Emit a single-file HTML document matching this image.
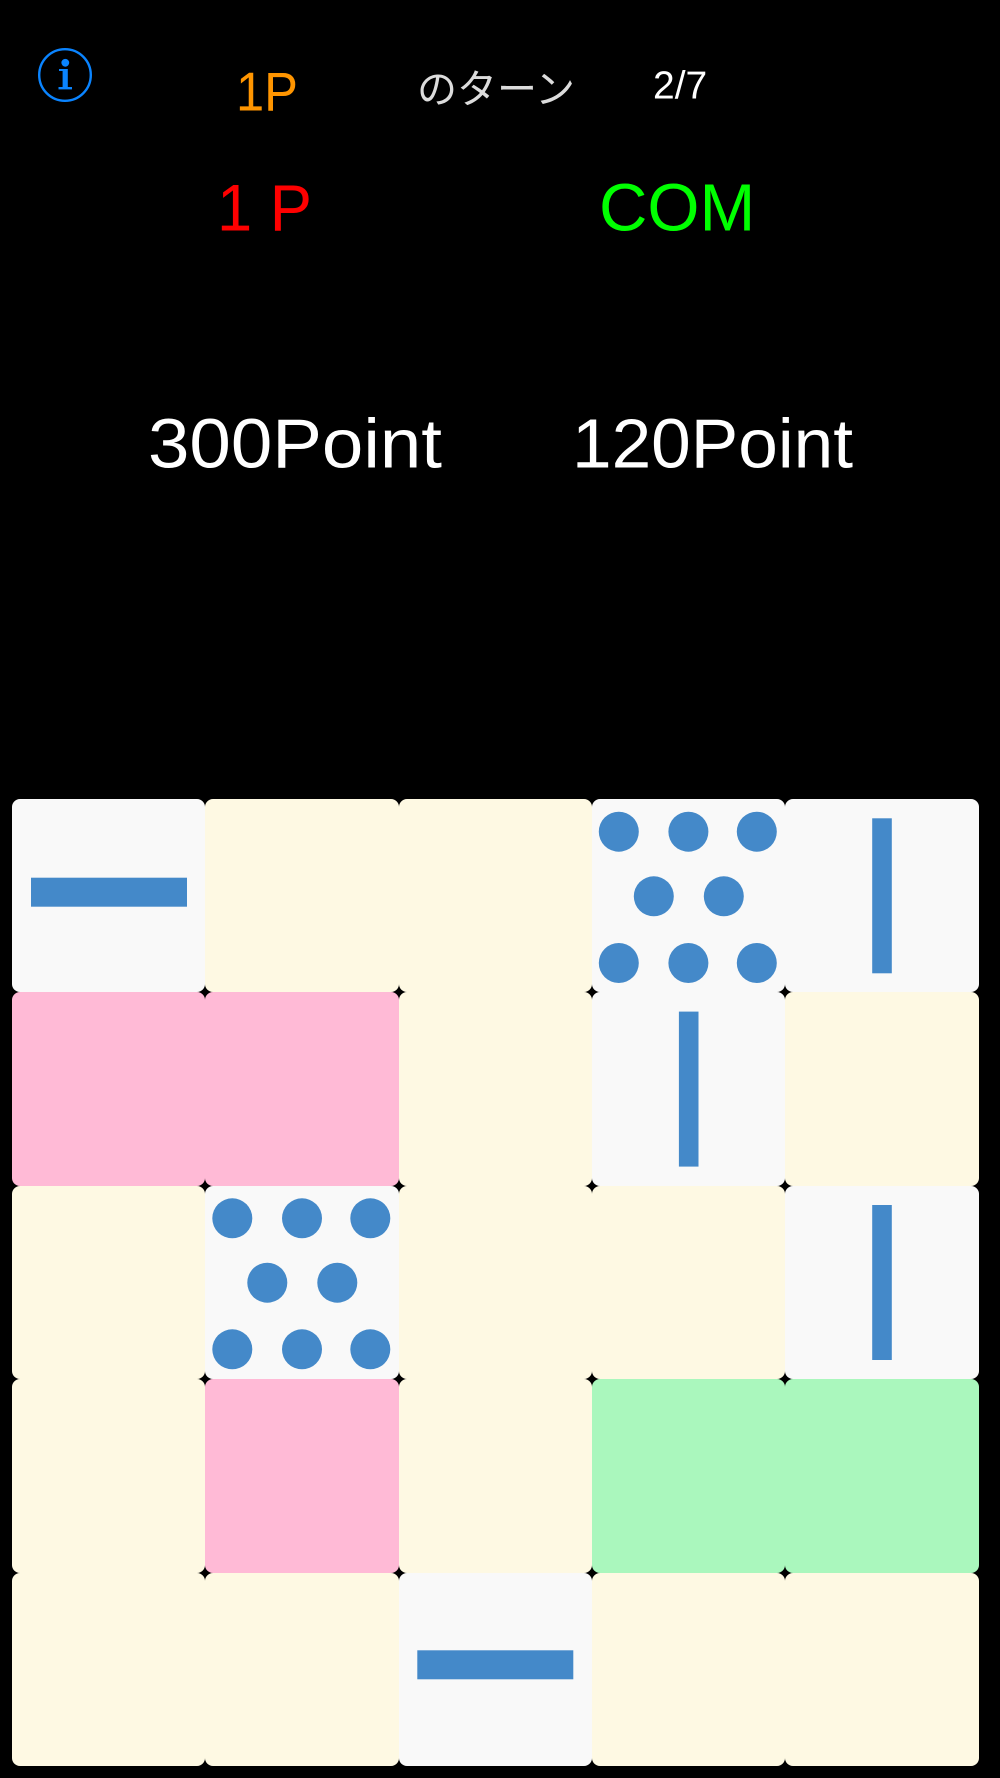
<!DOCTYPE html>
<html>
<head>
<meta charset="utf-8">
<style>
  html, body { margin: 0; padding: 0; background: #000; }
  body { width: 1000px; height: 1778px; overflow: hidden; }
  svg { display: block; }
  text { font-family: "Liberation Sans", "Noto Sans CJK JP", sans-serif; }
</style>
</head>
<body>
<svg width="1000" height="1778" viewBox="0 0 1000 1778" xmlns="http://www.w3.org/2000/svg">
  <rect x="0" y="0" width="1000" height="1778" fill="#000"/>

  <!-- info icon -->
  <circle cx="65" cy="75" r="25.8" fill="none" stroke="#0a84ff" stroke-width="2.4"/>
  <circle cx="65.3" cy="62.8" r="3.9" fill="#0a84ff"/>
  <rect x="62.6" y="69" width="5.2" height="19" fill="#0a84ff"/>
  <rect x="59" y="69" width="7" height="2" fill="#0a84ff"/>
  <rect x="58.5" y="87" width="13.5" height="2.4" fill="#0a84ff"/>

  <!-- header texts -->
  <text x="236" y="110.7" font-size="55" fill="#ff9500" textLength="62" lengthAdjust="spacingAndGlyphs">1P</text>
  <text x="417" y="103" font-size="40" fill="#dcdcdc" font-family="'Noto Sans CJK JP', sans-serif">のターン</text>
  <text x="653" y="98.3" font-size="39" fill="#ffffff">2/7</text>

  <text x="217" y="230.7" font-size="66" fill="#ff0000" textLength="95" lengthAdjust="spacingAndGlyphs">1 P</text>
  <text x="599" y="230.7" font-size="67" fill="#00ff00">COM</text>

  <text x="148" y="467.3" font-size="70" fill="#ffffff" textLength="294" lengthAdjust="spacingAndGlyphs">300Point</text>
  <text x="572" y="467.3" font-size="70" fill="#ffffff" textLength="281" lengthAdjust="spacingAndGlyphs">120Point</text>

  <!-- grid: columns 12,205,399,592,785,979 ; rows 799,992,1186,1379,1573,1766 -->
  <g>
    <!-- row 0 -->
    <rect x="12" y="799" width="193" height="193" rx="8" fill="#f9f9f9"/>
    <rect x="205" y="799" width="194" height="193" rx="8" fill="#fef9e3"/>
    <rect x="399" y="799" width="193" height="193" rx="8" fill="#fef9e3"/>
    <rect x="592" y="799" width="193" height="193" rx="8" fill="#f9f9f9"/>
    <rect x="785" y="799" width="194" height="193" rx="8" fill="#f9f9f9"/>
    <!-- row 1 -->
    <rect x="12" y="992" width="193" height="194" rx="8" fill="#ffbad6"/>
    <rect x="205" y="992" width="194" height="194" rx="8" fill="#ffbad6"/>
    <rect x="399" y="992" width="193" height="194" rx="8" fill="#fef9e3"/>
    <rect x="592" y="992" width="193" height="194" rx="8" fill="#f9f9f9"/>
    <rect x="785" y="992" width="194" height="194" rx="8" fill="#fef9e3"/>
    <!-- row 2 -->
    <rect x="12" y="1186" width="193" height="193" rx="8" fill="#fef9e3"/>
    <rect x="205" y="1186" width="194" height="193" rx="8" fill="#f9f9f9"/>
    <rect x="399" y="1186" width="193" height="193" rx="8" fill="#fef9e3"/>
    <rect x="592" y="1186" width="193" height="193" rx="8" fill="#fef9e3"/>
    <rect x="785" y="1186" width="194" height="193" rx="8" fill="#f9f9f9"/>
    <!-- row 3 -->
    <rect x="12" y="1379" width="193" height="194" rx="8" fill="#fef9e3"/>
    <rect x="205" y="1379" width="194" height="194" rx="8" fill="#ffbad6"/>
    <rect x="399" y="1379" width="193" height="194" rx="8" fill="#fef9e3"/>
    <rect x="592" y="1379" width="193" height="194" rx="8" fill="#aaf7bd"/>
    <rect x="785" y="1379" width="194" height="194" rx="8" fill="#aaf7bd"/>
    <!-- row 4 -->
    <rect x="12" y="1573" width="193" height="193" rx="8" fill="#fef9e3"/>
    <rect x="205" y="1573" width="194" height="193" rx="8" fill="#fef9e3"/>
    <rect x="399" y="1573" width="193" height="193" rx="8" fill="#f9f9f9"/>
    <rect x="592" y="1573" width="193" height="193" rx="8" fill="#fef9e3"/>
    <rect x="785" y="1573" width="194" height="193" rx="8" fill="#fef9e3"/>
  </g>

  <!-- symbols -->
  <g fill="#4489c9">
    <!-- horizontal bar r0c0 -->
    <rect x="31" y="877.7" width="156" height="29"/>
    <!-- dots r0c3 -->
    <circle cx="618.8" cy="831.7" r="20"/>
    <circle cx="688.4" cy="831.7" r="20"/>
    <circle cx="756.8" cy="831.7" r="20"/>
    <circle cx="653.8" cy="896.3" r="20"/>
    <circle cx="723.8" cy="896.3" r="20"/>
    <circle cx="618.8" cy="963" r="20"/>
    <circle cx="688.4" cy="963" r="20"/>
    <circle cx="756.8" cy="963" r="20"/>
    <!-- vertical bar r0c4 -->
    <rect x="872.2" y="818.3" width="19.6" height="155"/>
    <!-- vertical bar r1c3 -->
    <rect x="678.9" y="1011.6" width="19.6" height="155"/>
    <!-- dots r2c1 -->
    <circle cx="232.3" cy="1218.3" r="20"/>
    <circle cx="302" cy="1218.3" r="20"/>
    <circle cx="370.3" cy="1218.3" r="20"/>
    <circle cx="267.3" cy="1282.7" r="20"/>
    <circle cx="337.3" cy="1282.7" r="20"/>
    <circle cx="232.3" cy="1349.3" r="20"/>
    <circle cx="302" cy="1349.3" r="20"/>
    <circle cx="370.3" cy="1349.3" r="20"/>
    <!-- vertical bar r2c4 -->
    <rect x="872.2" y="1205" width="19.6" height="155"/>
    <!-- horizontal bar r4c2 -->
    <rect x="417.3" y="1650.3" width="156" height="29"/>
  </g>
</svg>
</body>
</html>
